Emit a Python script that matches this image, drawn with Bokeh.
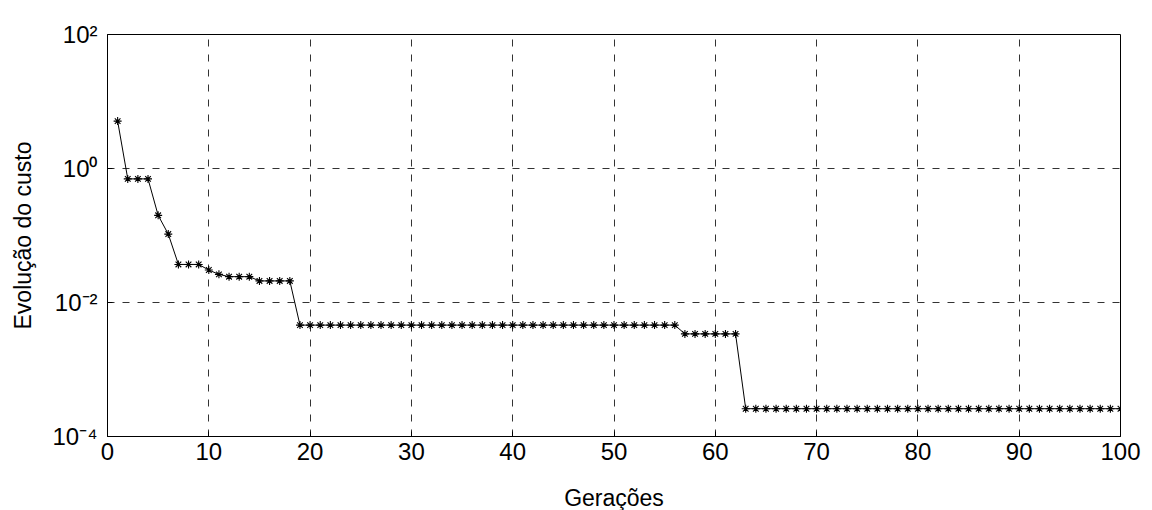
from bokeh.plotting import figure
from bokeh.models import FixedTicker, Range1d
from bokeh.embed import file_html
from bokeh.resources import INLINE

generations = list(range(1, 101))
cost = ([5.1, 0.70, 0.70, 0.70, 0.20, 0.105, 0.037, 0.037, 0.037, 0.0305,
         0.0263, 0.0243, 0.0243, 0.0243, 0.021, 0.021, 0.021, 0.021]
        + [0.0046] * 38
        + [0.0034] * 6
        + [0.00026] * 38)

x_ticks = [0, 10, 20, 30, 40, 50, 60, 70, 80, 90, 100]
y_ticks = [1e-4, 1e-2, 1e0, 1e2]
y_tick_labels = {1e-4: "10⁻⁴", 1e-2: "10⁻²", 1e0: "10⁰", 1e2: "10²"}

FONT = "Liberation Sans"

p = figure(width=1150, height=502, frame_width=1013, frame_height=402,
           x_range=Range1d(0, 100), y_range=Range1d(1e-4, 1e2),
           y_axis_type="log", output_backend="svg", toolbar_location=None,
           min_border_left=107, min_border_right=30, min_border_top=34,
           min_border_bottom=66)

p.line(generations, cost, line_color="black", line_width=1)
p.scatter(generations, cost, marker="asterisk", size=8, line_color="black", line_width=1.1)

p.xaxis.ticker = FixedTicker(ticks=x_ticks)
p.yaxis.ticker = FixedTicker(ticks=y_ticks, minor_ticks=[])
p.yaxis.major_label_overrides = y_tick_labels

for ax in (p.xaxis[0], p.yaxis[0]):
    ax.major_label_text_font = FONT
    ax.major_label_text_font_size = "24px"
    ax.major_label_text_color = "black"
    ax.axis_label_text_font = FONT
    ax.axis_label_text_font_style = "normal"
    ax.axis_label_text_color = "black"
    ax.axis_label_text_font_size = "23px"
    ax.major_tick_in = 5
    ax.major_tick_out = 0
    ax.minor_tick_in = 0
    ax.minor_tick_out = 0
    ax.axis_line_color = "black"
    ax.major_tick_line_color = "black"

p.xaxis.axis_label = "Gerações"
p.xaxis.axis_label_standoff = 22
p.xaxis.major_label_standoff = 6
p.yaxis.axis_label = "Evolução do custo"
p.yaxis.major_label_standoff = 10
p.yaxis.axis_label_standoff = 13

p.xgrid.ticker = FixedTicker(ticks=x_ticks)
p.ygrid.ticker = FixedTicker(ticks=y_ticks, minor_ticks=[])
for g in (p.xgrid[0], p.ygrid[0]):
    g.grid_line_color = "black"
    g.grid_line_alpha = 0.8
    g.grid_line_dash = "7 8"
    g.grid_line_width = 1

p.outline_line_color = "black"
p.outline_line_alpha = 1.0
p.background_fill_color = "white"
p.border_fill_color = "white"

open("out.html", "w").write(file_html(p, INLINE))
